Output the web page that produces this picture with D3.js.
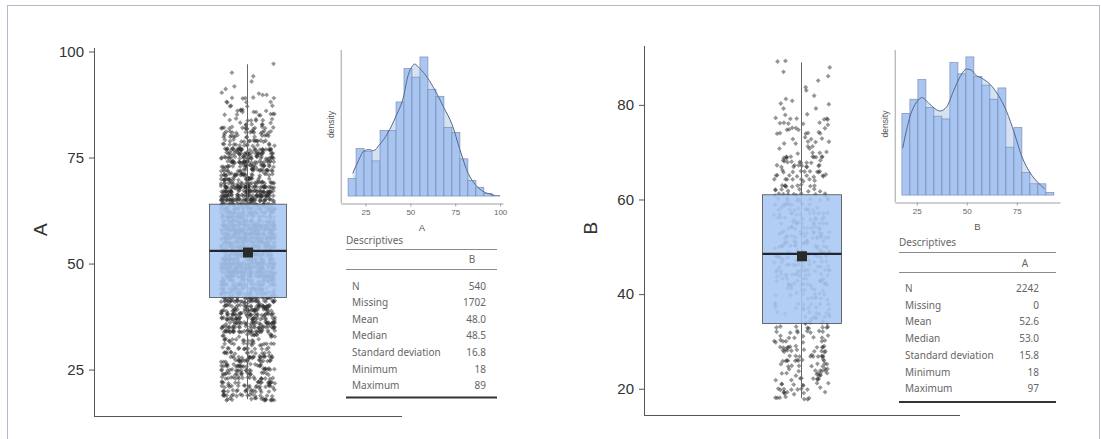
<!DOCTYPE html>
<html>
<head>
<meta charset="utf-8">
<script src="https://cdn.jsdelivr.net/npm/d3@7"></script>
<style>
  html, body { margin: 0; padding: 0; background: #ffffff; }
  svg { display: block; font-family: Arial, "Liberation Sans", sans-serif; }
</style>
</head>
<body>
<svg id="chart" width="1101" height="439"></svg>
<script>
// ---- Data -------------------------------------------------------------
// Histogram of A: bin edges start / width and counts per bin
const binStartA = 15.3;
const binWidthA = 4.45;
const countsA = [34, 92, 86, 68, 127, 127, 182, 247, 230, 269, 206, 193, 133, 123, 72, 30, 17, 5, 1];
// Smoothed density of A: [value, density]
const densityA = [[17.9, 0.0044], [21, 0.0068], [24.3, 0.0088], [27, 0.0090], [29.5, 0.0088], [32.7, 0.0099],
  [37.4, 0.0122], [42.0, 0.0155], [46.3, 0.0194], [48.5, 0.0231], [51.3, 0.0253], [52.2, 0.0256],
  [55.3, 0.0247], [59.4, 0.0230], [63.9, 0.0204], [68.7, 0.0171], [73.2, 0.0139], [77.6, 0.0090],
  [82.2, 0.0044], [86.5, 0.0021], [91.0, 0.0008], [95.3, 0.0003], [97, 0.0001]];
const quartilesA = [42, 64];

// Histogram of B
const binStartB = 17.6;
const binWidthB = 4.0;
const countsB = [29, 34, 41, 31, 28, 27, 47, 43, 49, 42, 39, 34, 38, 17, 24, 8, 4, 4, 1];
const densityB = [[18.0, 0.0077], [21.65, 0.0129], [25.8, 0.0156], [27.5, 0.0160], [31.65, 0.0149],
  [35.0, 0.0140], [36.65, 0.0138], [40.0, 0.0145], [43.3, 0.0170], [46.65, 0.0194], [50.0, 0.0207],
  [52.5, 0.0205], [54.15, 0.0198], [57.5, 0.0192], [61.65, 0.0182], [65.8, 0.0164], [70.0, 0.0137],
  [73.8, 0.0102], [77.5, 0.0064], [81.65, 0.0037], [85.8, 0.0020], [89.0, 0.0010]];
const quartilesB = [33.8, 61];

// Descriptive statistics tables
const statLabels = ["N", "Missing", "Mean", "Median", "Standard deviation", "Minimum", "Maximum"];
const statDigits = [0, 0, 1, 1, 1, 0, 0];
const statsA = [2242, 0, 52.6, 53.0, 15.8, 18, 97];
const statsB = [540, 1702, 48.0, 48.5, 16.8, 18, 89];

// Axis ticks
const ticksBoxA = [25, 50, 75, 100];
const ticksBoxB = [20, 40, 60, 80];
const ticksHistA = [25, 50, 75, 100];
const ticksHistB = [25, 50, 75];

// ---- Styling ----------------------------------------------------------
const C = {
  axis: "#555",
  tickText: "#333",
  boxFill: "#a9c7f2",
  boxStroke: "#4a4a4a",
  point: "#2e2e2e",
  bar: "#a5c2ef",
  barStroke: "#6f86ad",
  area: "#d6e2f4",
  curve: "#55698c",
  histAxis: "#a0a0a0",
  histText: "#666",
  tableText: "#666",
};

const svg = d3.select("#chart");

// outer frame
svg.append("rect")
  .attr("x", 7.5).attr("y", 5.5).attr("width", 1092).attr("height", 440)
  .attr("fill", "none").attr("stroke", "#b3b8c8").attr("stroke-width", 1);

// ---- Helpers ----------------------------------------------------------
// deterministic scatter offset in [0,1) used for horizontal jitter
function hash01(i, seed) {
  const s = Math.sin(i * 127.1 + seed * 311.7) * 43758.5453;
  return s - Math.floor(s);
}

function pointValues(counts, start, width, min, max) {
  // integer observations implied by each bin's count
  const vals = [];
  counts.forEach((c, i) => {
    const lo = start + i * width, hi = lo + width;
    let ints = d3.range(Math.ceil(lo), Math.ceil(hi)).filter(v => v >= min && v <= max);
    if (!ints.length) ints = [Math.max(min, Math.min(max, Math.round(lo)))];
    for (let k = 0; k < c; k++) vals.push(ints[Math.floor((k + 0.5) * ints.length / c)]);
  });
  return vals;
}

function boxPanel(opt) {
  const g = svg.append("g");
  const x = d3.scaleBand().domain([opt.name]).range([opt.x0, opt.x1]);
  const y = d3.scaleLinear().domain(opt.domain).range([opt.y1, opt.y0]);
  const cx = x(opt.name) + x.bandwidth() / 2;
  const boxW = x.bandwidth() * 0.25;
  const jit = x.bandwidth() * 0.088;

  // y axis
  const ax = g.append("g").attr("transform", `translate(${opt.x0},0)`)
    .call(d3.axisLeft(y).tickValues(opt.ticks).tickSize(5).tickSizeOuter(0).tickPadding(5));
  ax.select(".domain").attr("stroke", C.axis);
  ax.selectAll(".tick line").attr("stroke", C.axis);
  ax.selectAll(".tick text").attr("fill", C.tickText).style("font-size", "15px")
    .style("font-family", "Arial, 'Liberation Sans', sans-serif");

  // x axis baseline
  g.append("line").attr("x1", opt.x0).attr("x2", opt.x1).attr("y1", opt.y1 + 0.5).attr("y2", opt.y1 + 0.5)
    .attr("stroke", C.axis);

  // axis title
  g.append("text").attr("transform", `translate(${opt.x0 - 54},${(opt.y0 + opt.y1) / 2 - 2}) rotate(-90)`)
    .attr("text-anchor", "middle").attr("dominant-baseline", "central")
    .attr("fill", C.tickText).style("font-size", "19px").text(opt.name);

  // jittered observations
  const vals = pointValues(opt.counts, opt.binStart, opt.binWidth, opt.stats[5], opt.stats[6]);
  const diamond = "M0,-2.4L2.4,0L0,2.4L-2.4,0Z";
  g.append("g").selectAll("path").data(vals).join("path")
    .attr("d", diamond)
    .attr("transform", (v, i) => {
      const fx = hash01(i, opt.seed);
      const fy = hash01(i + 7919, opt.seed + 3) - 0.5;
      return `translate(${cx + (fx - 0.5) * 2 * jit},${y(v + fy * 0.6)})`;
    })
    .attr("fill", C.point).attr("fill-opacity", 0.5);

  // whisker
  g.append("line").attr("x1", cx - 0.5).attr("x2", cx - 0.5)
    .attr("y1", y(opt.stats[5])).attr("y2", y(opt.stats[6]))
    .attr("stroke", "#666").attr("stroke-width", 1);

  // box
  g.append("rect").attr("x", cx - boxW / 2).attr("width", boxW)
    .attr("y", y(opt.quart[1])).attr("height", y(opt.quart[0]) - y(opt.quart[1]))
    .attr("fill", C.boxFill).attr("fill-opacity", 0.88)
    .attr("stroke", C.boxStroke).attr("stroke-width", 0.8);

  // median
  g.append("line").attr("x1", cx - boxW / 2).attr("x2", cx + boxW / 2)
    .attr("y1", y(opt.stats[3])).attr("y2", y(opt.stats[3]))
    .attr("stroke", "#1f2630").attr("stroke-width", 2.4);

  // mean
  g.append("rect").attr("x", cx - 5).attr("y", y(opt.stats[2]) - 5)
    .attr("width", 10).attr("height", 10).attr("fill", "#2a2a2a");
}

function histPanel(opt) {
  const g = svg.append("g");
  const n = d3.sum(opt.counts);
  const bars = opt.counts.map((c, i) => ({
    x0: opt.binStart + i * opt.binWidth,
    x1: opt.binStart + (i + 1) * opt.binWidth,
    d: c / (n * opt.binWidth)
  }));
  const dMax = Math.max(d3.max(bars, b => b.d), d3.max(opt.density, p => p[1]));
  const x = d3.scaleLinear().domain(opt.xDomain).range([opt.x0, opt.x1]);
  const y = d3.scaleLinear().domain([-0.05 * dMax, 1.05 * dMax]).range([opt.y1, opt.y0]);

  // density area
  g.append("path").datum(opt.density)
    .attr("d", d3.area().x(p => x(p[0])).y0(y(0)).y1(p => y(p[1])).curve(d3.curveMonotoneX))
    .attr("fill", C.area);

  // bars
  g.append("g").selectAll("rect").data(bars).join("rect")
    .attr("x", b => x(b.x0)).attr("width", b => x(b.x1) - x(b.x0))
    .attr("y", b => y(b.d)).attr("height", b => y(0) - y(b.d))
    .attr("fill", C.bar).attr("fill-opacity", 0.95)
    .attr("stroke", C.barStroke).attr("stroke-width", 0.6);

  // density curve
  g.append("path").datum(opt.density)
    .attr("d", d3.line().x(p => x(p[0])).y(p => y(p[1])).curve(d3.curveMonotoneX))
    .attr("fill", "none").attr("stroke", C.curve).attr("stroke-width", 1);

  // axes
  g.append("line").attr("x1", opt.x0 + 0.5).attr("x2", opt.x0 + 0.5).attr("y1", opt.y0).attr("y2", opt.y1)
    .attr("stroke", C.histAxis);
  const ax = g.append("g").attr("transform", `translate(0,${opt.y1 + 0.5})`)
    .call(d3.axisBottom(x).tickValues(opt.ticks).tickSize(3).tickSizeOuter(0).tickPadding(3));
  ax.select(".domain").attr("stroke", C.histAxis);
  ax.selectAll(".tick line").attr("stroke", C.histAxis);
  ax.selectAll(".tick text").attr("fill", C.histText).style("font-size", "8px")
    .style("font-family", "Arial, 'Liberation Sans', sans-serif");

  g.append("text").attr("x", (opt.x0 + opt.x1) / 2).attr("y", opt.y1 + 24)
    .attr("text-anchor", "middle").attr("dominant-baseline", "central")
    .attr("fill", "#555").style("font-size", "9.5px").text(opt.name);
  g.append("text").attr("transform", `translate(${opt.x0 - 10},${(opt.y0 + opt.y1) / 2 - 2}) rotate(-90)`)
    .attr("text-anchor", "middle").attr("dominant-baseline", "central")
    .attr("fill", "#555").style("font-size", "8.5px").text("density");
}

function table(opt) {
  const g = svg.append("g").style("font-family", "'Noto Sans', 'Open Sans', sans-serif")
    .style("font-size", "10px").attr("fill", C.tableText);
  g.append("text").attr("x", opt.x0).attr("y", opt.titleY).attr("dominant-baseline", "central")
    .text("Descriptives");
  g.append("line").attr("x1", opt.x0).attr("x2", opt.x1).attr("y1", opt.line1).attr("y2", opt.line1)
    .attr("stroke", "#8a8a8a").attr("stroke-width", 1);
  g.append("text").attr("x", opt.colX).attr("y", opt.headY).attr("text-anchor", "middle")
    .attr("dominant-baseline", "central").text(opt.column);
  g.append("line").attr("x1", opt.x0).attr("x2", opt.x1).attr("y1", opt.line2).attr("y2", opt.line2)
    .attr("stroke", "#8a8a8a").attr("stroke-width", 1);
  statLabels.forEach((lab, i) => {
    const yy = opt.row0 + i * opt.rowStep;
    g.append("text").attr("x", opt.x0 + 6).attr("y", yy).attr("dominant-baseline", "central").text(lab);
    g.append("text").attr("x", opt.valX).attr("y", yy).attr("text-anchor", "end")
      .attr("dominant-baseline", "central").text(opt.stats[i].toFixed(statDigits[i]));
  });
  g.append("line").attr("x1", opt.x0).attr("x2", opt.x1).attr("y1", opt.bottom).attr("y2", opt.bottom)
    .attr("stroke", "#333").attr("stroke-width", 2);
}

// ---- Left panel: A ----------------------------------------------------
boxPanel({
  name: "A", x0: 94, x1: 402, y0: 47.5, y1: 416, domain: [14.05, 100.95], ticks: ticksBoxA,
  counts: countsA, binStart: binStartA, binWidth: binWidthA, stats: statsA, quart: quartilesA, seed: 1
});
histPanel({
  name: "A", x0: 340.7, x1: 503, y0: 50, y1: 203, xDomain: [11.2, 101.6], ticks: ticksHistA,
  counts: countsA, binStart: binStartA, binWidth: binWidthA, density: densityA
});
table({
  column: "B", stats: statsB, x0: 346, x1: 497, titleY: 240, line1: 249.5, headY: 259, line2: 269.5,
  colX: 472, valX: 486, row0: 285.5, rowStep: 16.6, bottom: 397.5
});

// ---- Right panel: B ---------------------------------------------------
boxPanel({
  name: "B", x0: 644, x1: 960, y0: 45.5, y1: 415, domain: [14.45, 92.55], ticks: ticksBoxB,
  counts: countsB, binStart: binStartB, binWidth: binWidthB, stats: statsB, quart: quartilesB, seed: 5
});
histPanel({
  name: "B", x0: 894.7, x1: 1060, y0: 50, y1: 202, xDomain: [14, 96.65], ticks: ticksHistB,
  counts: countsB, binStart: binStartB, binWidth: binWidthB, density: densityB
});
table({
  column: "A", stats: statsA, x0: 899, x1: 1056, titleY: 242, line1: 252.5, headY: 263, line2: 272.5,
  colX: 1025, valX: 1039, row0: 288, rowStep: 16.7, bottom: 402
});
</script>
</body>
</html>
